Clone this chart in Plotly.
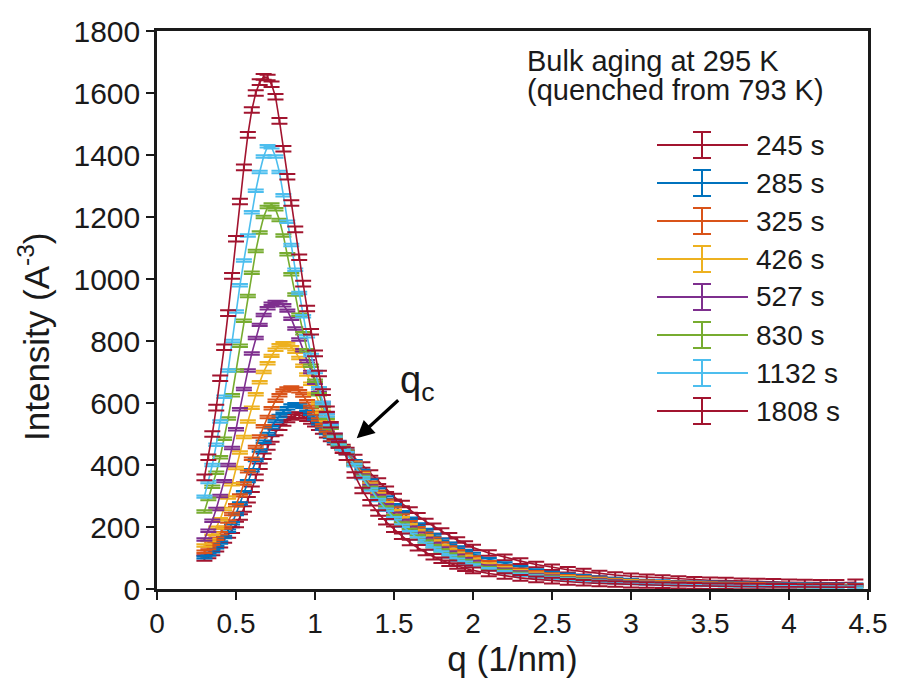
import plotly.graph_objects as go

# ---------------- data ----------------
q = [0.300, 0.325, 0.350, 0.375, 0.400, 0.425, 0.450, 0.475, 0.500, 0.525,
     0.550, 0.575, 0.600, 0.625, 0.650, 0.675, 0.700, 0.725, 0.750, 0.775,
     0.800, 0.825, 0.850, 0.875, 0.900, 0.925, 0.950, 0.975, 1.000, 1.025,
     1.050, 1.075, 1.100, 1.125, 1.150, 1.175, 1.200,
     1.25, 1.30, 1.35, 1.40, 1.45, 1.50, 1.55, 1.60, 1.65, 1.70, 1.75, 1.80,
     1.85, 1.90, 1.95, 2.00,
     2.1, 2.2, 2.3, 2.4, 2.5, 2.6, 2.7, 2.8, 2.9, 3.0,
     3.1, 3.2, 3.3, 3.4, 3.5, 3.6, 3.7, 3.8, 3.9, 4.0, 4.1, 4.2, 4.3, 4.42]

labels = ["245 s", "285 s", "325 s", "426 s", "527 s", "830 s", "1132 s", "1808 s"]
colors = ["#A2142F", "#0072BD", "#D95319", "#EDB120", "#7E2F8E", "#77AC30", "#4DBEEE", "#A2142F"]
errors = [9, 4, 4, 4, 4, 4, 4, 9]

I_245 = [100, 108, 118, 130, 143, 158, 174, 190, 208, 232, 258, 288, 322, 360, 396, 428, 458, 484, 505, 522,
         536, 547, 555, 560, 561, 558, 551, 542, 533, 522, 510, 498, 486, 475, 465, 456, 447,
         424, 400, 374, 348, 322, 298, 276, 255, 236, 218, 202, 187, 172, 158, 145, 134,
         116, 102, 90, 79, 70, 62, 56, 50, 45, 41,
         38, 35, 32, 30, 28, 27, 25, 24, 23, 22, 21, 20, 20, 22]
I_285 = [102, 111, 122, 135, 150, 168, 188, 212, 242, 276, 312, 348, 383, 416, 447, 475, 500, 522, 542, 558,
         572, 583, 592, 596, 594, 588, 578, 565, 550, 535, 518, 503, 490, 477, 465, 455, 445,
         412, 381, 350, 321, 295, 270, 248, 227, 208, 190, 174, 159, 146, 134, 123, 113,
         96, 82, 70, 60, 52, 46, 41, 36, 32, 29,
         26, 24, 22, 21, 20, 19, 18, 17, 16, 15, 15, 14, 14, 14]
I_325 = [120, 132, 146, 162, 180, 198, 218, 242, 270, 302, 340, 380, 420, 458, 492, 525, 555, 583, 607, 625,
         640, 647, 650, 646, 638, 624, 606, 587, 567, 547, 528, 511, 496, 482, 468, 456, 443,
         408, 375, 343, 313, 285, 260, 237, 215, 196, 178, 162, 147, 134, 122, 111, 102,
         86, 73, 62, 54, 47, 41, 37, 33, 29, 26,
         24, 22, 20, 19, 18, 17, 16, 15, 14, 13, 13, 12, 12, 12]
I_426 = [140, 158, 178, 198, 225, 258, 295, 338, 390, 440, 490, 540, 585, 628, 667, 700, 728, 752, 772, 786,
         793, 790, 780, 765, 745, 720, 692, 662, 630, 600, 572, 545, 520, 495, 472, 455, 442,
         405, 370, 337, 306, 277, 251, 228, 206, 187, 169, 153, 139, 126, 114, 104, 94,
         79, 67, 57, 49, 43, 38, 34, 30, 27, 24,
         22, 20, 18, 17, 16, 15, 14, 13, 12, 12, 11, 11, 11, 11]
I_527 = [160, 188, 220, 258, 300, 348, 400, 455, 515, 580, 645, 705, 760, 810, 852, 884, 906, 920, 926, 925,
         915, 898, 872, 840, 805, 770, 735, 700, 665, 632, 600, 568, 528, 498, 474, 454, 441,
         403, 366, 332, 300, 270, 243, 219, 198, 178, 161, 145, 131, 118, 107, 96, 87,
         73, 62, 53, 45, 40, 35, 31, 28, 25, 22,
         20, 18, 17, 16, 15, 14, 13, 12, 11, 11, 10, 10, 10, 10]
I_830 = [250, 290, 330, 375, 425, 485, 550, 625, 705, 785, 865, 945, 1020, 1090, 1150, 1200, 1232, 1240, 1225, 1190,
         1140, 1080, 1015, 950, 885, 825, 770, 720, 672, 628, 590, 552, 520, 492, 468, 452, 440,
         401, 362, 326, 293, 263, 235, 211, 190, 170, 153, 138, 124, 111, 100, 90, 81,
         68, 58, 49, 42, 37, 33, 29, 26, 23, 20,
         18, 17, 16, 15, 14, 13, 12, 11, 10, 10, 9, 9, 9, 9]
I_1132 = [298, 345, 400, 465, 540, 620, 705, 800, 895, 980, 1060, 1140, 1215, 1285, 1345, 1395, 1428, 1425, 1395, 1345,
          1270, 1185, 1110, 1030, 955, 880, 815, 755, 700, 648, 600, 560, 525, 495, 470, 452, 438,
          399, 358, 321, 287, 256, 228, 204, 183, 163, 146, 131, 118, 105, 94, 85, 76,
          64, 54, 46, 40, 35, 31, 27, 24, 21, 19,
          17, 16, 15, 14, 13, 12, 11, 10, 10, 9, 9, 8, 8, 8]
I_1808 = [360, 425, 500, 585, 680, 780, 890, 1010, 1130, 1250, 1360, 1465, 1545, 1600, 1635, 1652, 1650, 1628, 1588, 1510,
          1420, 1330, 1245, 1160, 1070, 985, 905, 830, 760, 695, 635, 580, 530, 492, 465, 448, 425,
          368, 318, 278, 245, 217, 193, 170, 150, 133, 118, 104, 93, 83, 74, 67, 60,
          50, 42, 36, 31, 27, 23, 20, 18, 16, 14,
          13, 12, 11, 10, 9, 9, 8, 8, 7, 7, 6, 6, 6, 6]

series = [I_245, I_285, I_325, I_426, I_527, I_830, I_1132, I_1808]

x_ticks = [0, 0.5, 1, 1.5, 2, 2.5, 3, 3.5, 4, 4.5]
y_ticks = [0, 200, 400, 600, 800, 1000, 1200, 1400, 1600, 1800]

# ---------------- layout constants ----------------
W, H = 899, 692
ML, MR, MT, MB = 157, 31, 31, 103
PW, PH = W - ML - MR, H - MT - MB
FONT = "Liberation Sans, Arial, Helvetica, sans-serif"
TXT = "#1a1a1a"


def xp(px):
    return (px - ML) / PW


def yp(py):
    return (H - MB - py) / PH


fig = go.Figure()
for lab, col, err, ys in zip(labels, colors, errors, series):
    fig.add_trace(go.Scatter(
        x=q, y=ys, mode="lines", name=lab, showlegend=False,
        line=dict(color=col, width=1.6),
        error_y=dict(type="constant", value=err, color=col, thickness=2, width=8),
    ))

# ---------------- custom legend (line with I-beam, as in reference) ----------------
shapes = []
annotations = []
for i, (lab, col) in enumerate(zip(labels, colors)):
    cy = 145 + 38 * i
    shapes.append(dict(type="line", xref="paper", yref="paper", x0=xp(657), x1=xp(748),
                       y0=yp(cy), y1=yp(cy), line=dict(color=col, width=2)))
    shapes.append(dict(type="line", xref="paper", yref="paper", x0=xp(702), x1=xp(702),
                       y0=yp(cy - 13), y1=yp(cy + 13), line=dict(color=col, width=2)))
    for dy in (-13, 13):
        shapes.append(dict(type="line", xref="paper", yref="paper", x0=xp(693), x1=xp(711),
                           y0=yp(cy + dy), y1=yp(cy + dy), line=dict(color=col, width=2)))
    annotations.append(dict(text=lab, xref="paper", yref="paper", x=xp(754), y=yp(cy),
                            xanchor="left", yanchor="middle", showarrow=False,
                            font=dict(family=FONT, size=28, color=TXT)))

annotations.append(dict(text="Bulk aging at 295 K", xref="paper", yref="paper",
                        x=xp(525), y=yp(61), xanchor="left", yanchor="middle", showarrow=False,
                        font=dict(family=FONT, size=29, color=TXT)))
annotations.append(dict(text="(quenched from 793 K)", xref="paper", yref="paper",
                        x=xp(525), y=yp(90), xanchor="left", yanchor="middle", showarrow=False,
                        font=dict(family=FONT, size=29, color=TXT)))

# y-axis title (placed as in the reference, slightly below the plot middle)
annotations.append(dict(text="Intensity (A<sup>-3</sup>)", xref="paper", yref="paper",
                        x=xp(34), y=yp(337), xanchor="center", yanchor="middle",
                        textangle=-90, showarrow=False,
                        font=dict(family=FONT, size=35, color=TXT)))

# q_c arrow annotation
annotations.append(dict(text="q<sub>c</sub>", x=1.264, y=486, xref="x", yref="y",
                        ax=60, ay=-55, showarrow=True, arrowhead=2, arrowsize=1.1,
                        arrowwidth=3.2, arrowcolor="black", standoff=0,
                        font=dict(family=FONT, size=38, color=TXT)))

axis_common = dict(showline=True, linewidth=2.5, linecolor="#1a1a1a", mirror=True,
                   ticks="outside", ticklen=8, tickwidth=2, tickcolor="#1a1a1a",
                   showgrid=False, zeroline=False)

fig.update_layout(
    width=W, height=H,
    margin=dict(l=ML, r=MR, t=MT, b=MB, pad=0),
    paper_bgcolor="white", plot_bgcolor="white",
    showlegend=False,
    xaxis=dict(range=[0, 4.5], tickvals=x_ticks,
               ticktext=[("%g" % v) for v in x_ticks],
               tickfont=dict(family=FONT, size=28, color=TXT),
               title=dict(text="q (1/nm)", font=dict(family=FONT, size=35, color=TXT), standoff=6),
               **axis_common),
    yaxis=dict(range=[0, 1800], tickvals=y_ticks,
               tickfont=dict(family=FONT, size=30, color=TXT),
               **axis_common),
    shapes=shapes,
    annotations=annotations,
)

fig.write_html("out.html", config={"displayModeBar": False},
               post_script="document.body.style.margin='0';")
